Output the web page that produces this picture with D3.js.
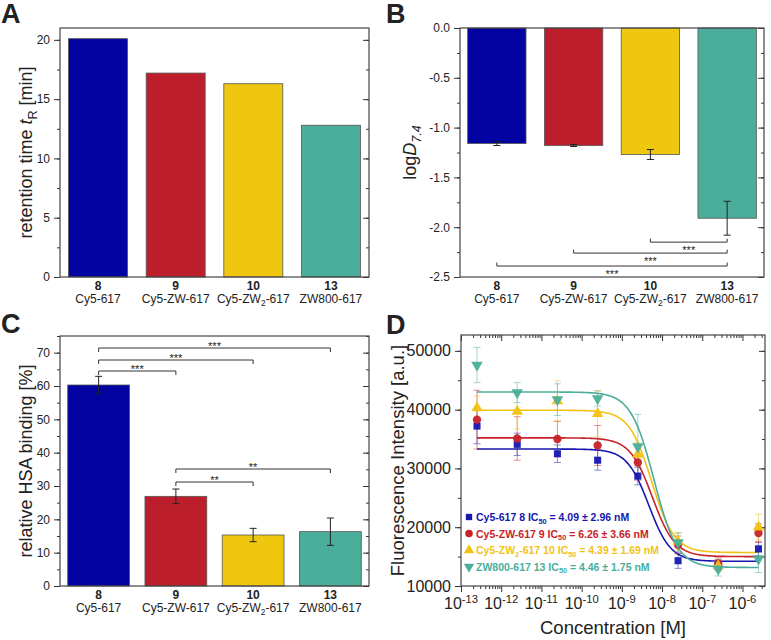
<!DOCTYPE html>
<html>
<head>
<meta charset="utf-8">
<style>
body, html { margin: 0; background: #fff; }
svg text { font-family: "Liberation Sans", Arial, sans-serif; fill: #222; }
</style>
</head>
<body>
<svg id="fig" width="771" height="640"></svg>
<script src="https://cdn.jsdelivr.net/npm/d3@7/dist/d3.min.js"></script>
<script>
// ---- data ----
const compounds = ["8", "9", "10", "13"];
const compoundNames = [[["Cy5-617"]], [["Cy5-ZW-617"]], [["Cy5-ZW"], ["2", "sub"], ["-617"]], [["ZW800-617"]]];
const barColors = ["#0303a1", "#bc1f2b", "#efc70f", "#4aae9b"];

const retention = [20.1, 17.2, 16.3, 12.8];

const logD = [-1.16, -1.18, -1.27, -1.91];
const logDErr = [0.02, 0.01, 0.05, 0.17];
const logDSig = [[2, 3, -2.15, "***"], [1, 3, -2.26, "***"], [0, 3, -2.39, "***"]];

const hsa = [60.3, 26.9, 15.3, 16.3];
const hsaErr = [2.6, 2.2, 2.0, 4.1];
const hsaSig = [[0, 1, 64.5, "***"], [0, 2, 67.8, "***"], [0, 3, 71.4, "***"], [1, 2, 31.2, "**"], [1, 3, 35.1, "**"]];

const conc = [2.5e-13, 2.5e-12, 2.5e-11, 2.5e-10, 2.5e-9, 2.5e-8, 2.5e-7, 2.5e-6];
const fluo = [
  [37200, 34100, 32500, 31400, 28700, 14300, 13600, 16300],
  [38300, 35100, 35000, 33900, 31000, 17000, 13800, 19000],
  [40300, 39700, 41500, 39300, 32400, 17600, 13400, 20000],
  [47600, 42900, 41700, 41900, 33700, 17400, 12900, 14600]
];
const fluoErr = [
  [3000, 1900, 1500, 1700, 1500, 1300, 900, 1200],
  [5000, 3700, 3000, 3400, 3000, 1500, 1000, 1600],
  [2000, 3000, 3400, 3900, 2000, 1500, 1000, 2200],
  [3000, 1700, 2700, 1300, 5500, 1600, 1200, 2300]
];
// dose-response fit curves as drawn: top, bottom, log midpoint, hill slope
const fitTop = [33300, 35200, 39900, 43000];
const fitBottom = [14200, 15000, 15700, 13150];
const fitLogIC = [-8.33, -8.24, -8.26, -8.2];
const fitHill = [1.6, 1.55, 1.55, 1.5];
const legendLabels = [
  [["Cy5-617 8 IC"], ["50", "sub"], [" = 4.09 \u00b1 2.96 nM"]],
  [["Cy5-ZW-617 9 IC"], ["50", "sub"], [" = 6.26 \u00b1 3.66 nM"]],
  [["Cy5-ZW"], ["2", "sub"], ["-617 10 IC"], ["50", "sub"], [" = 4.39 \u00b1 1.69 nM"]],
  [["ZW800-617 13 IC"], ["50", "sub"], [" = 4.46 \u00b1 1.75 nM"]]
];
const seriesColors = ["#1717b0", "#c8222a", "#f2c214", "#4aae9b"];

const svg = d3.select("#fig");

// text with subscripts / superscripts / italics
function rich(text, parts, fs) {
  let back = 0;
  parts.forEach(function(p) {
    const style = p[1] || "";
    const t = text.append("tspan").text(p[0]);
    let dy = back;
    back = 0;
    if (style.indexOf("i") >= 0) t.attr("font-style", "italic");
    if (style.indexOf("sub") >= 0) {
      t.attr("font-size", fs * 0.7);
      dy += fs * 0.25; back = -fs * 0.25;
    }
    if (style.indexOf("sup") >= 0) {
      t.attr("font-size", fs * 0.7);
      dy -= fs * 0.4; back = fs * 0.4;
    }
    if (dy) t.attr("dy", dy);
  });
  return text;
}

function styleAxis(g, fs) {
  g.select(".domain").remove();
  g.selectAll("line").attr("stroke", "#333").attr("stroke-width", 1);
  g.selectAll("text").filter(function() { return !this.textContent; }).remove();
  g.selectAll("text").attr("font-size", fs).attr("fill", "#222").attr("font-family", null);
}

function yAxes(g, y, x0, x1, major, minor, fmt, fs) {
  g.append("g").attr("transform", `translate(${x0},0)`)
    .call(d3.axisLeft(y).tickValues(minor).tickSize(3).tickFormat(""))
    .call(styleAxis, fs);
  g.append("g").attr("transform", `translate(${x0},0)`)
    .call(d3.axisLeft(y).tickValues(major).tickSize(6).tickPadding(4).tickFormat(fmt))
    .call(styleAxis, fs);
  g.append("g").attr("transform", `translate(${x1},0)`)
    .call(d3.axisLeft(y).tickValues(minor).tickSize(3).tickFormat(""))
    .call(styleAxis, fs);
  g.append("g").attr("transform", `translate(${x1},0)`)
    .call(d3.axisLeft(y).tickValues(major).tickSize(6).tickFormat(""))
    .call(styleAxis, fs);
}

function barPanel(o) {
  const g = svg.append("g");
  const x = d3.scaleBand().domain(compounds).range([o.x0, o.x1])
    .paddingInner(o.pi).paddingOuter(o.po);
  const y = d3.scaleLinear().domain(o.domain).range([o.y1, o.y0]);
  const base = y(o.base);

  g.selectAll("rect.bar").data(o.values).enter().append("rect")
    .attr("class", "bar")
    .attr("x", (d, i) => x(compounds[i]))
    .attr("width", x.bandwidth())
    .attr("y", d => Math.min(y(d), base))
    .attr("height", d => Math.abs(y(d) - base))
    .attr("fill", (d, i) => barColors[i])
    .attr("stroke", "#555").attr("stroke-width", 0.8);

  if (o.errs) {
    o.values.forEach(function(v, i) {
      const cx = x(compounds[i]) + x.bandwidth() / 2;
      const e = o.errs[i];
      g.append("path")
        .attr("d", `M${cx},${y(v - e)}V${y(v + e)}M${cx - 3.5},${y(v - e)}H${cx + 3.5}M${cx - 3.5},${y(v + e)}H${cx + 3.5}`)
        .attr("stroke", "#222").attr("stroke-width", 1).attr("fill", "none");
    });
  }

  if (o.sig) {
    o.sig.forEach(function(s) {
      const xa = x(compounds[s[0]]) + x.bandwidth() / 2;
      const xb = x(compounds[s[1]]) + x.bandwidth() / 2;
      const yy = y(s[2]);
      const tk = o.sigBelow ? -3.5 : 4;
      g.append("path")
        .attr("d", `M${xa},${yy + tk}V${yy}H${xb}V${yy + tk}`)
        .attr("stroke", "#333").attr("stroke-width", 1).attr("fill", "none");
      g.append("text")
        .attr("x", (xa + xb) / 2).attr("y", o.sigBelow ? yy + 12 : yy + 1.5)
        .attr("text-anchor", "middle").attr("font-size", 11)
        .text(s[3]);
    });
  }

  yAxes(g, y, o.x0, o.x1, o.major, o.minor, o.fmt, 12);

  g.append("rect")
    .attr("x", o.x0).attr("y", o.y0).attr("width", o.x1 - o.x0).attr("height", o.y1 - o.y0)
    .attr("fill", "none").attr("stroke", "#444").attr("stroke-width", 1.2);

  compounds.forEach(function(c, i) {
    const cx = x(c) + x.bandwidth() / 2;
    g.append("text").attr("x", cx).attr("y", o.y1 + 13)
      .attr("text-anchor", "middle").attr("font-size", 12).attr("font-weight", "bold").text(c);
    rich(g.append("text").attr("x", cx).attr("y", o.y1 + 26)
      .attr("text-anchor", "middle").attr("font-size", 12), compoundNames[i], 12);
  });

  const cy = (o.y0 + o.y1) / 2;
  rich(g.append("text")
    .attr("transform", `translate(${o.lx},${cy}) rotate(-90)`)
    .attr("text-anchor", "middle").attr("font-size", 18), o.ylabel, 18);

  svg.append("text").attr("x", o.letter[1]).attr("y", o.letter[2])
    .attr("font-size", 27).attr("font-weight", "bold").attr("fill", "#111").text(o.letter[0]);
}

// ---- A ----
barPanel({
  x0: 60, x1: 369, y0: 28, y1: 277, pi: 0.24, po: 0.11,
  domain: [0, 21], base: 0, values: retention,
  major: [0, 5, 10, 15, 20], minor: d3.range(0, 21, 2.5), fmt: d3.format("d"),
  ylabel: [["retention time "], ["t", "i"], ["R", "sub"], [" [min]"]], lx: 32,
  letter: ["A", 1, 23]
});

// ---- B ----
barPanel({
  x0: 460, x1: 764, y0: 28, y1: 277, pi: 0.24, po: 0.1,
  domain: [-2.5, 0], base: 0, values: logD, errs: logDErr, sig: logDSig, sigBelow: true,
  major: [0, -0.5, -1, -1.5, -2, -2.5], minor: d3.range(0, -2.51, -0.25), fmt: d => d.toFixed(1),
  ylabel: [["log"], ["D", "i"], ["7.4", "isub"]], lx: 416,
  letter: ["B", 386, 23]
});

// ---- C ----
barPanel({
  x0: 60, x1: 369, y0: 336, y1: 586, pi: 0.2, po: 0.1,
  domain: [0, 75], base: 0, values: hsa, errs: hsaErr, sig: hsaSig, sigBelow: false,
  major: d3.range(0, 71, 10), minor: d3.range(0, 76, 5), fmt: d3.format("d"),
  ylabel: [["relative HSA binding [%]"]], lx: 32,
  letter: ["C", 1, 333]
});

// ---- D ----
(function() {
  const x0 = 461, x1 = 765, y0 = 335, y1 = 586;
  const g = svg.append("g");
  const x = d3.scaleLog().domain([1e-13, Math.pow(10, -5.44)]).range([x0, x1]);
  const y = d3.scaleLinear().domain([10000, 52700]).range([y1, y0]);

  const majorX = d3.range(-13, -5).map(e => Math.pow(10, e));
  const minorX = [];
  d3.range(-13, -5).forEach(e => { for (let m = 2; m <= 9; m++) { const v = m * Math.pow(10, e); if (v < x.domain()[1]) minorX.push(v); } });
  const majorY = [10000, 20000, 30000, 40000, 50000];
  const minorY = d3.range(10000, 52001, 5000);

  // x axes: bottom outward, top inward
  g.append("g").attr("transform", `translate(0,${y1})`)
    .call(d3.axisBottom(x).tickValues(minorX).tickSize(3).tickFormat("")).call(styleAxis, 16);
  g.append("g").attr("transform", `translate(0,${y1})`)
    .call(d3.axisBottom(x).tickValues(majorX).tickSize(6).tickFormat("")).call(styleAxis, 16);
  g.append("g").attr("transform", `translate(0,${y0})`)
    .call(d3.axisBottom(x).tickValues(minorX).tickSize(3).tickFormat("")).call(styleAxis, 16);
  g.append("g").attr("transform", `translate(0,${y0})`)
    .call(d3.axisBottom(x).tickValues(majorX).tickSize(6).tickFormat("")).call(styleAxis, 16);
  majorX.forEach(function(v) {
    const e = Math.round(Math.log10(v));
    rich(g.append("text").attr("x", x(v)).attr("y", y1 + 23)
      .attr("text-anchor", "middle").attr("font-size", 16), [["10"], ["-" + (-e), "sup"]], 16);
  });

  yAxes(g, y, x0, x1, majorY, minorY, d3.format("d"), 16);

  // curves
  const lMin = Math.log10(conc[0]), lMax = Math.log10(conc[conc.length - 1]);
  const line = d3.line().x(d => x(Math.pow(10, d[0]))).y(d => y(d[1]));
  fitTop.forEach(function(top, k) {
    const pts = d3.range(0, 241).map(function(i) {
      const lx = lMin + (lMax - lMin) * i / 240;
      return [lx, fitBottom[k] + (top - fitBottom[k]) / (1 + Math.pow(10, (lx - fitLogIC[k]) * fitHill[k]))];
    });
    g.append("path").attr("d", line(pts)).attr("fill", "none")
      .attr("stroke", seriesColors[k]).attr("stroke-width", 1.6);
  });

  // error bars
  fluo.forEach(function(vals, k) {
    vals.forEach(function(v, i) {
      const cx = x(conc[i]), e = fluoErr[k][i];
      g.append("path")
        .attr("d", `M${cx},${y(v - e)}V${y(v + e)}M${cx - 3.5},${y(v - e)}H${cx + 3.5}M${cx - 3.5},${y(v + e)}H${cx + 3.5}`)
        .attr("stroke", seriesColors[k]).attr("stroke-opacity", 0.5).attr("stroke-width", 1).attr("fill", "none");
    });
  });

  // markers
  const symbols = [d3.symbolSquare, d3.symbolCircle, d3.symbolTriangle, d3.symbolTriangle];
  const rot = [0, 0, 0, 180];
  const sizes = [50, 55, 58, 58];
  fluo.forEach(function(vals, k) {
    g.selectAll(null).data(vals).enter().append("path")
      .attr("d", d3.symbol().type(symbols[k]).size(sizes[k]))
      .attr("transform", (d, i) => `translate(${x(conc[i])},${y(d)}) rotate(${rot[k]})`)
      .attr("fill", seriesColors[k]).attr("fill-opacity", 0.95);
  });

  // legend
  legendLabels.forEach(function(lab, k) {
    const ly = 517 + k * 16.6;
    g.append("path")
      .attr("d", d3.symbol().type(symbols[k]).size(sizes[k] * 0.8))
      .attr("transform", `translate(469,${ly}) rotate(${rot[k]})`)
      .attr("fill", seriesColors[k]);
    rich(g.append("text").attr("x", 476).attr("y", ly + 4)
      .attr("font-size", 10.5).attr("font-weight", "bold").style("fill", seriesColors[k]), lab, 10.5);
  });

  g.append("rect")
    .attr("x", x0).attr("y", y0).attr("width", x1 - x0).attr("height", y1 - y0)
    .attr("fill", "none").attr("stroke", "#444").attr("stroke-width", 1.2);

  g.append("text").attr("x", (x0 + x1) / 2).attr("y", 634)
    .attr("text-anchor", "middle").attr("font-size", 18.5).text("Concentration [M]");
  g.append("text").attr("transform", `translate(404,${(y0 + y1) / 2}) rotate(-90)`)
    .attr("text-anchor", "middle").attr("font-size", 18.5).text("Fluorescence Intensity [a.u.]");

  svg.append("text").attr("x", 386).attr("y", 334)
    .attr("font-size", 27).attr("font-weight", "bold").attr("fill", "#111").text("D");
})();
</script>
</body>
</html>
